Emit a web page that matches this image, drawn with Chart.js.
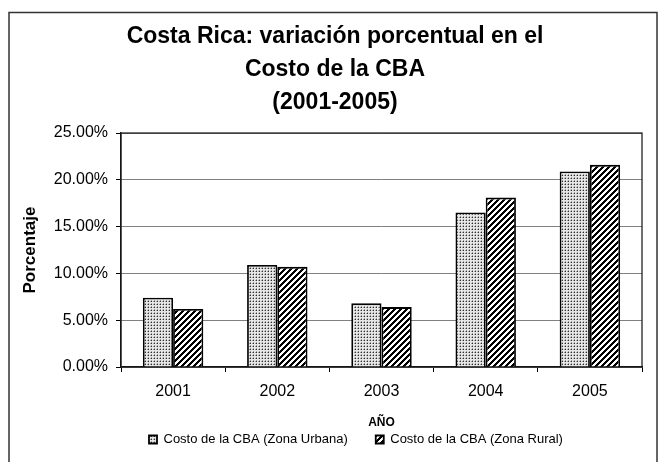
<!DOCTYPE html>
<html>
<head>
<meta charset="utf-8">
<script src="https://cdn.jsdelivr.net/npm/chart.js@4/dist/chart.umd.min.js"></script>
<style>
html,body{margin:0;padding:0;background:#fff}
</style>
</head>
<body>
<canvas id="grafico" width="665" height="462"></canvas>
<script>
// datos
var anios=["2001","2002","2003","2004","2005"]
var zonaUrbana=[7.4,10.9,6.8,16.5,20.9]
var zonaRural=[6.2,10.7,6.4,18.1,21.6]
var nombres=["Costo de la CBA (Zona Urbana)","Costo de la CBA (Zona Rural)"]
var titulo=["Costa Rica: variación porcentual en el","Costo de la CBA","(2001-2005)"]

var fuente="'Liberation Sans', Arial, sans-serif"

function patronPuntos(){ // trama de puntos gris
    var c=document.createElement("canvas")
    c.width=3;c.height=3
    var x=c.getContext("2d")
    x.fillStyle="#e6e6e6";x.fillRect(0,0,3,3)
    x.fillStyle="#2e2e2e";x.fillRect(1,1,1,1)
    x.fillStyle="#a0a0a0";x.fillRect(0,1,1,1);x.fillRect(1,0,1,1)
    return x.createPattern(c,"repeat")
}
function patronRayas(){ // rayas diagonales negras
    var c=document.createElement("canvas")
    c.width=6;c.height=6
    var x=c.getContext("2d")
    x.fillStyle="#fff";x.fillRect(0,0,6,6)
    x.fillStyle="#000"
    for(var i=0;i<6;i++){
        for(var j=0;j<6;j++){
            if((i+j)%6<3){x.fillRect(i,j,1,1)}
        }
    }
    return x.createPattern(c,"repeat")
}

const marco={
    id:"marco",
    beforeDraw:(chart)=>{
        const {ctx}=chart
        ctx.save()
        ctx.fillStyle="#fff"
        ctx.fillRect(0,0,chart.width,chart.height)
        ctx.strokeStyle="#333"
        ctx.lineWidth=1.5
        ctx.strokeRect(9,12.5,648,470)
        ctx.restore()
    },
    beforeDatasetsDraw:(chart)=>{
        const {ctx,chartArea}=chart
        ctx.save()
        ctx.strokeStyle="#222"
        ctx.lineWidth=1.3
        ctx.strokeRect(chartArea.left,chartArea.top,chartArea.right-chartArea.left,chartArea.bottom-chartArea.top)
        ctx.restore()
    }
}

var grafico=new Chart(document.getElementById("grafico"),{
    type:"bar",
    data:{
        labels:anios,
        datasets:[{
            label:nombres[0],
            data:zonaUrbana,
            backgroundColor:patronPuntos(),
            borderColor:"#000",
            borderWidth:1.8,
            barPercentage:1,
            categoryPercentage:0.58
        },{
            label:nombres[1],
            data:zonaRural,
            backgroundColor:patronRayas(),
            borderColor:"#000",
            borderWidth:1.8,
            barPercentage:1,
            categoryPercentage:0.58
        }]
    },
    options:{
        responsive:false,
        animation:false,
        layout:{padding:{top:12,left:28,right:23,bottom:6}},
        plugins:{
            title:{
                display:true,
                text:titulo,
                color:"#000",
                font:{family:fuente,size:23,weight:"bold",lineHeight:1.435},
                padding:{top:8.5,bottom:13.5}
            },
            legend:{
                position:"bottom",
                fullSize:false,
                align:"start",
                labels:{
                    color:"#000",
                    font:{family:fuente,size:13},
                    boxWidth:8,
                    boxHeight:8,
                    padding:28
                }
            },
            tooltip:{enabled:false}
        },
        scales:{
            x:{
                afterFit:(s)=>{s.height=38},
                grid:{display:true,drawOnChartArea:false,drawTicks:true,tickLength:5,color:"#000",offset:true},
                border:{color:"#000",width:1.3},
                ticks:{color:"#000",font:{family:fuente,size:16},padding:10},
                title:{display:true,text:"AÑO",color:"#000",font:{family:fuente,size:12,weight:"bold"},padding:{top:0,bottom:-25}}
            },
            y:{
                min:0,
                max:25,
                afterFit:(s)=>{s.width=93},
                grid:{color:"#808080",lineWidth:1,tickLength:5,tickColor:"#000"},
                border:{color:"#000",width:1.3},
                ticks:{
                    stepSize:5,
                    color:"#000",
                    font:{family:fuente,size:16},
                    padding:8,
                    callback:(v)=>v.toFixed(2)+"%"
                },
                title:{display:true,text:"Porcentaje",color:"#000",font:{family:fuente,size:17,weight:"bold"},padding:{top:-8,bottom:0}}
            }
        }
    },
    plugins:[marco]
})
</script>
</body>
</html>
